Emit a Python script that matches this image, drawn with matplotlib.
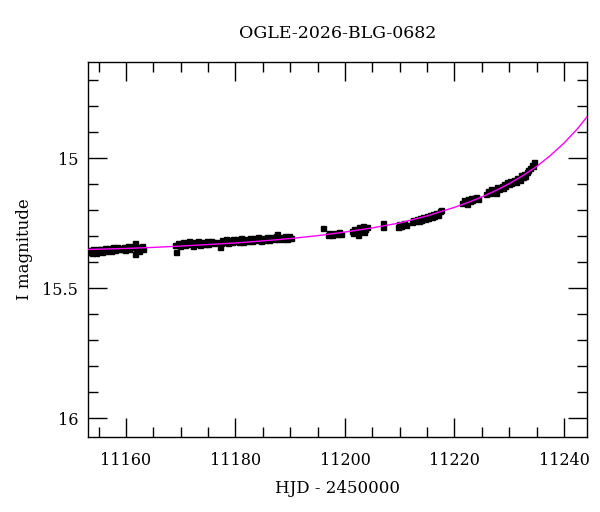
import numpy as np
import matplotlib
matplotlib.use('Agg')
import matplotlib.pyplot as plt
from matplotlib.ticker import MultipleLocator, FuncFormatter

# photometry (HJD - 2450000, I mag)
hjd_a = [11153.1, 11153.3, 11153.5, 11153.8, 11154.0, 11154.2, 11154.6, 11154.9,
         11155.0, 11155.3, 11155.6, 11155.7, 11156.1, 11156.3, 11156.5, 11156.9,
         11157.2, 11157.4, 11157.6, 11158.0, 11158.2, 11158.4, 11158.8, 11159.0,
         11159.2, 11159.6, 11159.8, 11160.0, 11160.4, 11160.6, 11160.8, 11161.2,
         11161.6, 11161.7, 11161.9, 11162.0, 11162.3, 11162.6, 11163.0, 11163.2]
mag_a = [15.362, 15.352, 15.357, 15.365, 15.350, 15.358, 15.363, 15.351,
         15.356, 15.348, 15.360, 15.353, 15.347, 15.358, 15.352, 15.345,
         15.355, 15.349, 15.343, 15.352, 15.346, 15.340, 15.350, 15.344,
         15.348, 15.341, 15.352, 15.345, 15.339, 15.349, 15.343, 15.338,
         15.326, 15.368, 15.350, 15.340, 15.356, 15.344, 15.338, 15.349]

hjd_b = [11169.0, 11169.2, 11169.5, 11169.8, 11170.0, 11170.4, 11170.8, 11171.0,
         11171.2, 11171.6, 11172.0, 11172.2, 11172.4, 11172.8, 11173.2, 11173.4,
         11173.6, 11174.0, 11174.4, 11174.8, 11175.0, 11175.2, 11175.6, 11176.0,
         11176.4, 11177.2, 11177.3, 11177.6, 11177.8, 11178.2, 11178.4, 11178.6,
         11179.0, 11179.4, 11179.6, 11179.8, 11180.2, 11180.6, 11181.0, 11181.2,
         11181.4, 11181.8, 11182.2, 11182.6, 11182.8, 11183.0, 11183.4, 11183.8,
         11184.2, 11184.4, 11184.6, 11185.0, 11185.4, 11185.8, 11186.0, 11186.2,
         11186.6, 11187.0, 11187.4, 11187.5, 11187.8, 11188.2, 11188.6, 11189.0,
         11189.2, 11189.4, 11189.8, 11190.2]
mag_b = [15.334, 15.360, 15.326, 15.338, 15.329, 15.322, 15.335, 15.327,
         15.331, 15.320, 15.329, 15.336, 15.322, 15.330, 15.318, 15.327,
         15.333, 15.321, 15.329, 15.319, 15.331, 15.324, 15.317, 15.328,
         15.321, 15.340, 15.326, 15.316, 15.324, 15.312, 15.320, 15.327,
         15.314, 15.322, 15.309, 15.318, 15.311, 15.321, 15.308, 15.316,
         15.322, 15.310, 15.318, 15.306, 15.314, 15.320, 15.308, 15.315,
         15.304, 15.312, 15.318, 15.306, 15.313, 15.302, 15.310, 15.316,
         15.304, 15.311, 15.300, 15.292, 15.309, 15.302, 15.311, 15.299,
         15.306, 15.312, 15.301, 15.306]

hjd_c = [11196.0, 11196.9, 11197.1, 11197.3, 11197.7, 11198.1, 11198.5, 11198.9,
         11199.3, 11201.3, 11201.5, 11201.7, 11202.0, 11202.3, 11202.5, 11202.7,
         11203.0, 11203.3, 11203.5, 11203.7, 11204.0, 11206.9, 11207.0, 11209.6,
         11209.9, 11210.1, 11210.3, 11210.7, 11211.1, 11212.3, 11212.5, 11212.7,
         11213.1, 11213.5, 11213.7, 11213.9, 11214.3, 11214.7, 11214.9, 11215.1,
         11215.5, 11215.9, 11216.1, 11216.3, 11216.7, 11217.0, 11217.3, 11217.6]
mag_c = [15.270, 15.294, 15.286, 15.291, 15.297, 15.287, 15.293, 15.284,
         15.290, 15.281, 15.288, 15.274, 15.284, 15.294, 15.266, 15.279,
         15.270, 15.262, 15.284, 15.273, 15.266, 15.250, 15.265, 15.264,
         15.253, 15.259, 15.262, 15.249, 15.255, 15.244, 15.236, 15.242,
         15.232, 15.240, 15.229, 15.236, 15.227, 15.234, 15.224, 15.229,
         15.219, 15.226, 15.214, 15.221, 15.210, 15.218, 15.204, 15.198]

hjd_d = [11221.4, 11221.7, 11222.0, 11222.2, 11222.4, 11222.8, 11223.0, 11223.2,
         11223.6, 11224.0, 11224.3, 11225.8, 11226.1, 11226.4, 11226.6, 11226.8,
         11227.1, 11227.5, 11227.8, 11228.1, 11228.6, 11228.9, 11229.1, 11229.3,
         11229.6, 11230.0, 11230.2, 11230.4, 11230.8, 11231.2, 11231.5, 11231.9,
         11232.2, 11232.5, 11232.7, 11232.9, 11233.2, 11233.5, 11233.8, 11234.1,
         11234.4, 11234.6]
mag_d = [15.172, 15.160, 15.168, 15.176, 15.158, 15.166, 15.152, 15.161,
         15.155, 15.148, 15.158, 15.138, 15.126, 15.134, 15.119, 15.128,
         15.122, 15.132, 15.110, 15.118, 15.106, 15.114, 15.098, 15.106,
         15.091, 15.101, 15.087, 15.094, 15.082, 15.090, 15.076, 15.082,
         15.066, 15.074, 15.060, 15.067, 15.052, 15.044, 15.036, 15.026,
         15.031, 15.016]

# model curve
model_hjd = [11153, 11160, 11165, 11170, 11175, 11180, 11185, 11190, 11195, 11200,
             11205, 11210, 11215, 11220, 11222.5, 11225, 11227.5, 11230, 11232.5,
             11235, 11237.5, 11240, 11242.5, 11245]
model_mag = [15.351, 15.347, 15.343, 15.338, 15.332, 15.326, 15.318, 15.309, 15.298,
             15.284, 15.268, 15.249, 15.222, 15.189, 15.170, 15.149, 15.125, 15.098,
             15.067, 15.032, 14.990, 14.942, 14.886, 14.820]

hjd = hjd_a + hjd_b + hjd_c + hjd_d
mag = mag_a + mag_b + mag_c + mag_d

plt.rcParams['font.family'] = 'DejaVu Serif'

fig = plt.figure(figsize=(6, 5.12), dpi=100)
ax = fig.add_axes([0.1467, 0.1465, 0.8316, 0.7325])

ax.plot(hjd, mag, 's', color='black', ms=3.6, zorder=2)
ax.plot(model_hjd, model_mag, color='#ff00ff', lw=1.0, zorder=3)

ax.set_xlim(11153.07, 11244.2)
ax.set_ylim(16.072, 14.630)

ax.xaxis.set_major_locator(MultipleLocator(20))
ax.xaxis.set_minor_locator(MultipleLocator(5))
ax.yaxis.set_major_locator(MultipleLocator(0.5))
ax.yaxis.set_minor_locator(MultipleLocator(0.1))
ax.tick_params(which='both', direction='in', top=True, right=True, width=1,
               labelsize=11.5)
ax.tick_params(axis='x', pad=11)
ax.tick_params(axis='y', pad=7)
ax.tick_params(which='major', length=13.5)
ax.tick_params(which='minor', length=7)
ax.yaxis.set_major_formatter(FuncFormatter(lambda v, p: f'{v:g}'))

for s in ax.spines.values():
    s.set_linewidth(1)

ax.set_xlabel('HJD - 2450000', fontsize=12, labelpad=8)
ax.set_ylabel('I magnitude', fontsize=12, labelpad=7)
ax.set_title('OGLE-2026-BLG-0682', fontsize=12.5, pad=17)

fig.savefig('out.png', dpi=100)
